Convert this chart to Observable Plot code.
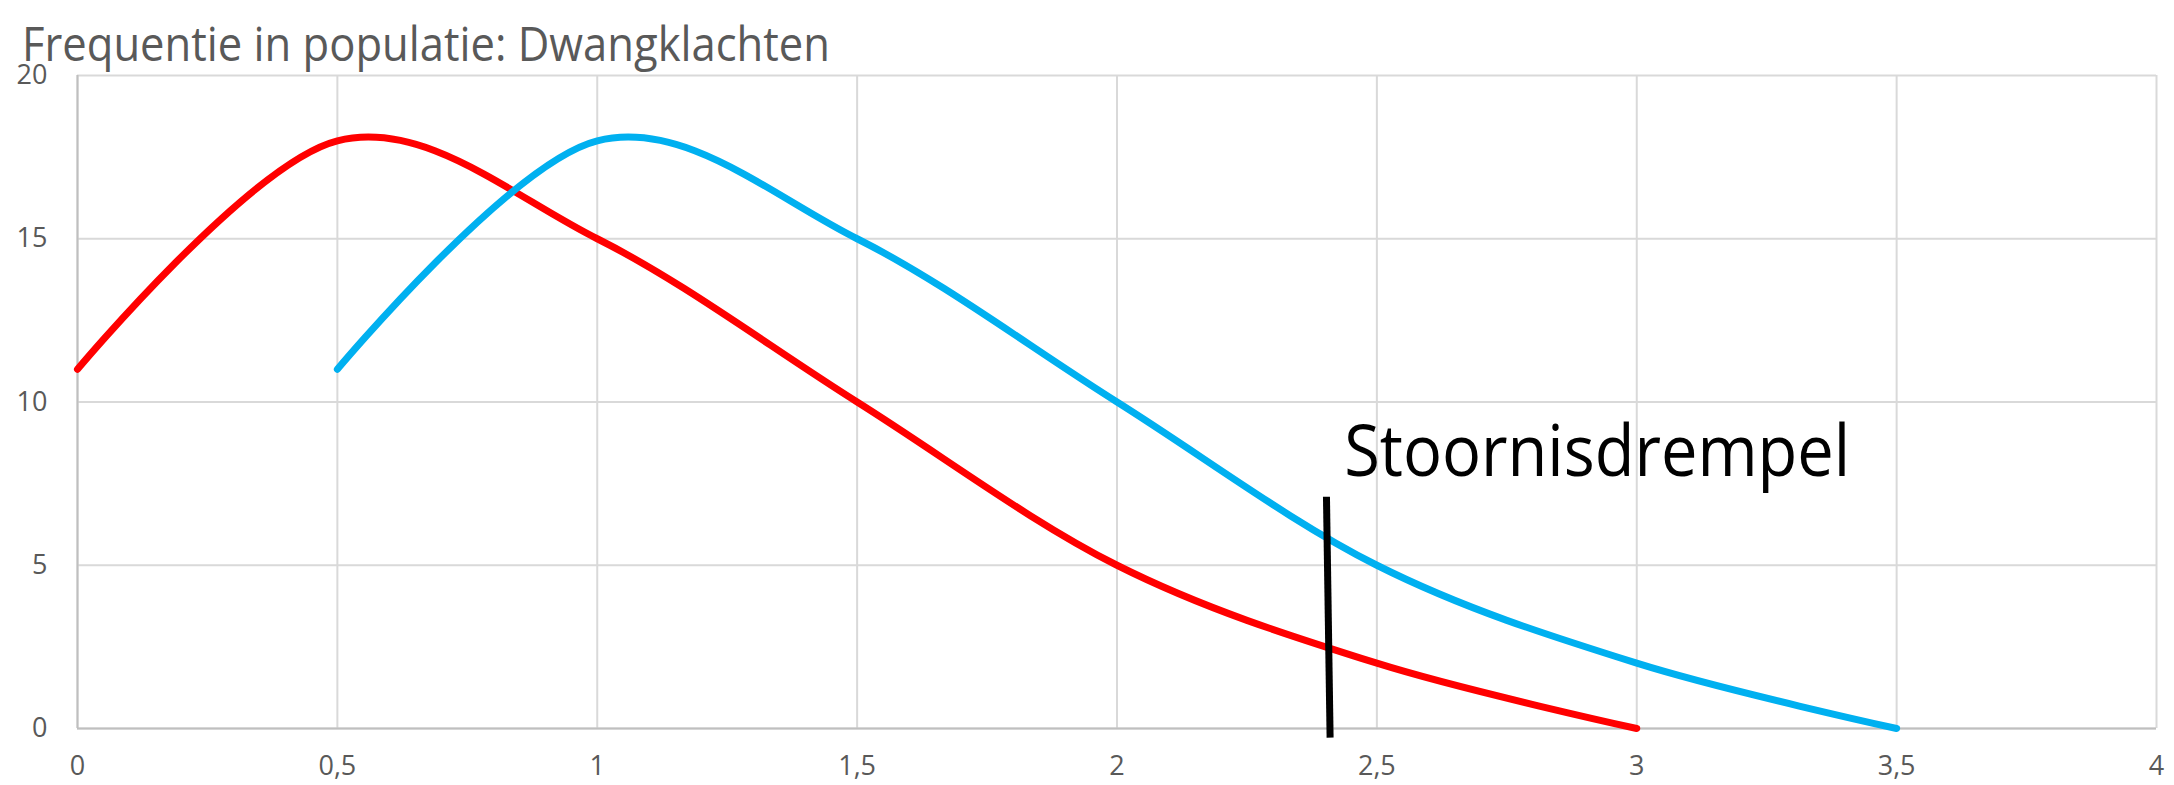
<!DOCTYPE html>
<html>
<head>
<meta charset="utf-8">
<script src="https://cdn.jsdelivr.net/npm/d3@7"></script>
<script src="https://cdn.jsdelivr.net/npm/@observablehq/plot@0.6"></script>
<style>
  html, body { margin: 0; padding: 0; background: #fff; }
  #wrap { position: relative; width: 2174px; height: 785px; }
  #title { position: absolute; left: 22px; top: 20px; font-family: "Open Sans", sans-serif; font-size: 47px; line-height: 1; color: #595959; white-space: nowrap; transform-origin: 0 0; }
</style>
</head>
<body>
<div id="wrap">
  <div id="chart"></div>
  <div id="title">Frequentie in populatie: Dwangklachten</div>
</div>
<script>
// Data
const xs = [0, 0.5, 1, 1.5, 2, 2.5, 3, 3.5];
const redValues = [11, 18, 15, 10, 5, 2, 0, null];
const blueValues = [null, 11, 18, 15, 10, 5, 2, 0];
const xTicks = [0, 0.5, 1, 1.5, 2, 2.5, 3, 3.5, 4];
const yTicks = [0, 5, 10, 15, 20];
const thresholdX1 = [2.403];
const thresholdX2 = [2.41];
const thresholdY1 = [7.1];
const thresholdY2 = [-0.28];
const labelText = ["Stoornisdrempel"];
const labelX = [2.437];
const labelY = [7.72];

const red = xs.map((x, i) => ({x, y: redValues[i]})).filter(d => d.y != null);
const blue = xs.map((x, i) => ({x, y: blueValues[i]})).filter(d => d.y != null);
const threshold = thresholdX1.map((x, i) => ({x1: x, x2: thresholdX2[i], y1: thresholdY1[i], y2: thresholdY2[i]}));
const labels = labelText.map((t, i) => ({t, x: labelX[i], y: labelY[i]}));
const fmt = d => String(d).replace(".", ",");

const chart = Plot.plot({
  width: 2174,
  height: 785,
  marginLeft: 77,
  marginRight: 18,
  marginTop: 75,
  marginBottom: 57,
  style: {fontFamily: "'Open Sans', sans-serif", color: "#595959", background: "#fff"},
  x: {domain: [0, 4]},
  y: {domain: [0, 20]},
  marks: [
    Plot.gridX(xTicks, {stroke: "#d9d9d9", strokeOpacity: 1, strokeWidth: 2}),
    Plot.gridY(yTicks, {stroke: "#d9d9d9", strokeOpacity: 1, strokeWidth: 2}),
    Plot.ruleX([0], {stroke: "#bfbfbf", strokeWidth: 2}),
    Plot.ruleY([0], {stroke: "#bfbfbf", strokeWidth: 2}),
    Plot.axisX(xTicks, {tickSize: 0, tickPadding: 27, tickFormat: fmt, fontSize: 27, label: null, color: "#595959"}),
    Plot.axisY(yTicks, {tickSize: 0, tickPadding: 30, tickFormat: fmt, fontSize: 27, label: null, color: "#595959"}),
    Plot.line(red, {x: "x", y: "y", stroke: "#ff0000", strokeWidth: 7, curve: "cardinal", tension: 0, strokeLinecap: "round"}),
    Plot.line(blue, {x: "x", y: "y", stroke: "#00b0f0", strokeWidth: 7, curve: "cardinal", tension: 0, strokeLinecap: "round"}),
    Plot.link(threshold, {x1: "x1", x2: "x2", y1: "y1", y2: "y2", stroke: "#000", strokeWidth: 7, strokeLinecap: "butt"}),
    Plot.text(labels, {x: "x", y: "y", text: "t", textAnchor: "start", lineAnchor: "bottom", fontSize: 72, fill: "#000", className: "thr-label"})
  ]
});
document.getElementById("chart").appendChild(chart);

// fit label width like the reference
d3.select(chart).selectAll(".thr-label text").attr("textLength", 506).attr("lengthAdjust", "spacingAndGlyphs");

// fit title width
const title = document.getElementById("title");
const w = title.getBoundingClientRect().width;
title.style.transform = `scaleX(${808 / w})`;
</script>
</body>
</html>
